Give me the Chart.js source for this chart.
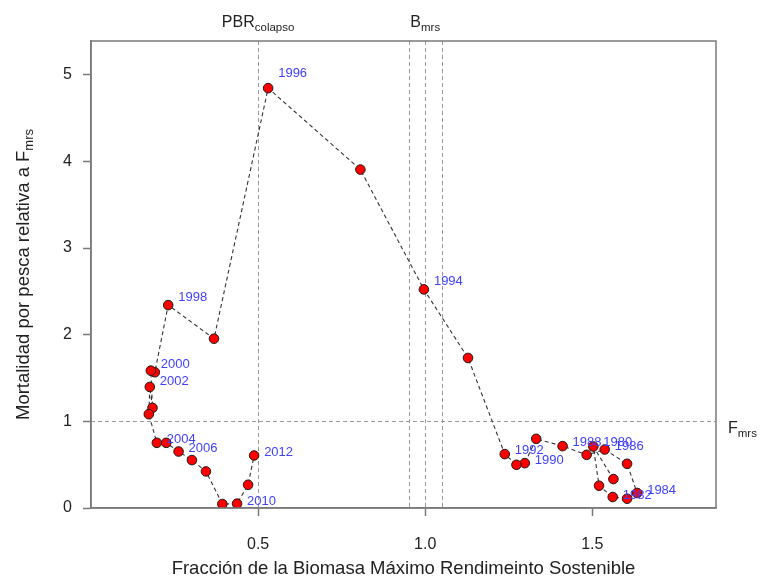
<!DOCTYPE html>
<html lang="es">
<head>
<meta charset="utf-8">
<title>Mortalidad por pesca vs. biomasa relativa</title>
<script src="https://cdn.jsdelivr.net/npm/chart.js@4/dist/chart.umd.min.js"></script>
<style>
  html, body { margin: 0; padding: 0; background: #ffffff; }
  #wrap { width: 764px; height: 578px; position: relative; }
</style>
</head>
<body>
<div id="wrap"><canvas id="kobe" width="764" height="578"></canvas></div>
<script>
// Annual trajectory: biomass relative to B_mrs (x) and fishing mortality relative to F_mrs (y)
const years = [1979, 1980, 1981, 1982, 1983, 1984, 1985, 1986, 1987, 1988,
               1989, 1990, 1991, 1992, 1993, 1994, 1995, 1996, 1997, 1998,
               1999, 2000, 2001, 2002, 2003, 2004, 2005, 2006, 2007, 2008,
               2009, 2010, 2011, 2012];
const biomassRatio = [1.563, 1.503, 1.520, 1.561, 1.604, 1.634, 1.604, 1.537, 1.483, 1.411,
                      1.332, 1.298, 1.273, 1.238, 1.128, 0.996, 0.806, 0.530, 0.368, 0.231,
                      0.191, 0.179, 0.184, 0.176, 0.173, 0.197, 0.225, 0.262, 0.302, 0.344,
                      0.393, 0.437, 0.470, 0.488];
const fishingRatio = [0.334, 0.710, 0.257, 0.127, 0.107, 0.173, 0.510, 0.675, 0.614, 0.714,
                      0.798, 0.518, 0.499, 0.622, 1.732, 2.523, 3.906, 4.846, 1.954, 2.342,
                      1.567, 1.585, 1.156, 1.397, 1.083, 0.752, 0.752, 0.652, 0.553, 0.422,
                      0.046, 0.050, 0.268, 0.606];

// Years that carry a text label next to their point
const labelledYears = [1980, 1982, 1984, 1986, 1988, 1990, 1992, 1994, 1996, 1998,
                       2000, 2002, 2004, 2006, 2010, 2012];

// Axis ticks and reference levels
const xTickValues = [0.5, 1.0, 1.5];
const yTickValues = [0, 1, 2, 3, 4, 5];
const refBiomass = [0.5, 0.95, 1.0, 1.05];
const refFishing = 1;

const FONT = '"Liberation Sans", Arial, Helvetica, sans-serif';
const points = years.map((yr, i) => ({ x: biomassRatio[i], y: fishingRatio[i], year: yr }));

// text with a subscript part, anchored by its total width
function drawSub(ctx, main, sub, x, y, size, subSize, align) {
  ctx.font = size + 'px ' + FONT;
  const wMain = ctx.measureText(main).width;
  ctx.font = subSize + 'px ' + FONT;
  const wSub = ctx.measureText(sub).width;
  const total = wMain + wSub;
  let left = x;
  if (align === 'center') left = x - total / 2;
  ctx.textAlign = 'left';
  ctx.textBaseline = 'alphabetic';
  ctx.font = size + 'px ' + FONT;
  ctx.fillText(main, left, y);
  ctx.font = subSize + 'px ' + FONT;
  ctx.fillText(sub, left + wMain, y + size * 0.22);
}

const decor = {
  id: 'decor',
  beforeDatasetsDraw(chart) {
    const { ctx, chartArea: a, scales } = chart;
    ctx.save();
    ctx.strokeStyle = '#9a9a9a';
    ctx.lineWidth = 1;
    ctx.setLineDash([4, 3]);
    refBiomass.forEach(v => {
      const px = Math.round(scales.x.getPixelForValue(v)) + 0.5;
      ctx.beginPath(); ctx.moveTo(px, a.top); ctx.lineTo(px, a.bottom); ctx.stroke();
    });
    const py = Math.round(scales.y.getPixelForValue(refFishing)) + 0.5;
    ctx.beginPath(); ctx.moveTo(a.left, py); ctx.lineTo(a.right, py); ctx.stroke();
    ctx.restore();
  },
  afterDatasetsDraw(chart) {
    const { ctx, scales } = chart;
    ctx.save();
    ctx.fillStyle = '#4040ff';
    ctx.font = '13px ' + FONT;
    ctx.textAlign = 'left';
    ctx.textBaseline = 'middle';
    points.forEach(p => {
      if (!labelledYears.includes(p.year)) return;
      const px = scales.x.getPixelForValue(p.x + 0.03);
      const py = scales.y.getPixelForValue(p.y * 1.03 + 0.02);
      ctx.fillText(String(p.year), px, py);
    });
    ctx.restore();
  },
  afterDraw(chart) {
    const { ctx, chartArea: a, scales } = chart;
    ctx.save();
    // frame
    ctx.strokeStyle = '#7a7a7a';
    ctx.lineWidth = 1.5;
    ctx.setLineDash([]);
    ctx.strokeRect(a.left, a.top, a.right - a.left, a.bottom - a.top);

    ctx.fillStyle = '#222222';
    // top labels for the reference biomass levels
    drawSub(ctx, 'PBR', 'colapso', scales.x.getPixelForValue(refBiomass[0]), 27, 16, 11.5, 'center');
    drawSub(ctx, 'B', 'mrs', scales.x.getPixelForValue(1.0), 27, 16, 11.5, 'center');
    // right-hand label for the reference mortality
    drawSub(ctx, 'F', 'mrs', a.right + 12, scales.y.getPixelForValue(refFishing) + 12, 16, 11.5, 'left');

    // x axis title
    ctx.font = '18.5px ' + FONT;
    ctx.textAlign = 'center';
    ctx.textBaseline = 'alphabetic';
    ctx.fillText('Fracción de la Biomasa Máximo Rendimeinto Sostenible', (a.left + a.right) / 2, 574);

    // y axis title (rotated, with subscript)
    ctx.translate(29, (a.top + a.bottom) / 2);
    ctx.rotate(-Math.PI / 2);
    drawSub(ctx, 'Mortalidad por pesca relativa a F', 'mrs', 0, 0, 18.5, 13, 'center');
    ctx.restore();
  }
};

new Chart(document.getElementById('kobe'), {
  type: 'scatter',
  data: {
    datasets: [{
      data: points,
      showLine: true,
      borderColor: '#333333',
      borderWidth: 1.1,
      borderDash: [4, 3],
      pointRadius: 4.8,
      pointBackgroundColor: '#ff0000',
      pointBorderColor: '#1a1a1a',
      pointBorderWidth: 1
    }]
  },
  options: {
    responsive: false,
    animation: false,
    layout: { padding: { top: 41, right: 48, bottom: 0, left: 0 } },
    plugins: { legend: { display: false }, tooltip: { enabled: false } },
    scales: {
      x: {
        type: 'linear',
        min: 0,
        max: 1.87,
        afterBuildTicks: s => { s.ticks = xTickValues.map(v => ({ value: v })); },
        afterFit: s => { s.height = 70; },
        ticks: {
          callback: v => v.toFixed(1),
          font: { family: FONT, size: 16 },
          color: '#222222',
          padding: 19,
          maxRotation: 0
        },
        grid: { drawOnChartArea: false, drawTicks: true, tickLength: 8, tickColor: '#7a7a7a', tickWidth: 1.5 },
        border: { display: true, color: '#7a7a7a', width: 1.5 }
      },
      y: {
        type: 'linear',
        min: 0,
        max: 5.39,
        afterBuildTicks: s => { s.ticks = yTickValues.map(v => ({ value: v })); },
        afterFit: s => { s.width = 91; },
        ticks: {
          callback: v => String(v),
          font: { family: FONT, size: 16 },
          color: '#222222',
          padding: 11
        },
        grid: { drawOnChartArea: false, drawTicks: true, tickLength: 8, tickColor: '#7a7a7a', tickWidth: 1.5 },
        border: { display: true, color: '#7a7a7a', width: 1.5 }
      }
    }
  },
  plugins: [decor]
});
</script>
</body>
</html>
